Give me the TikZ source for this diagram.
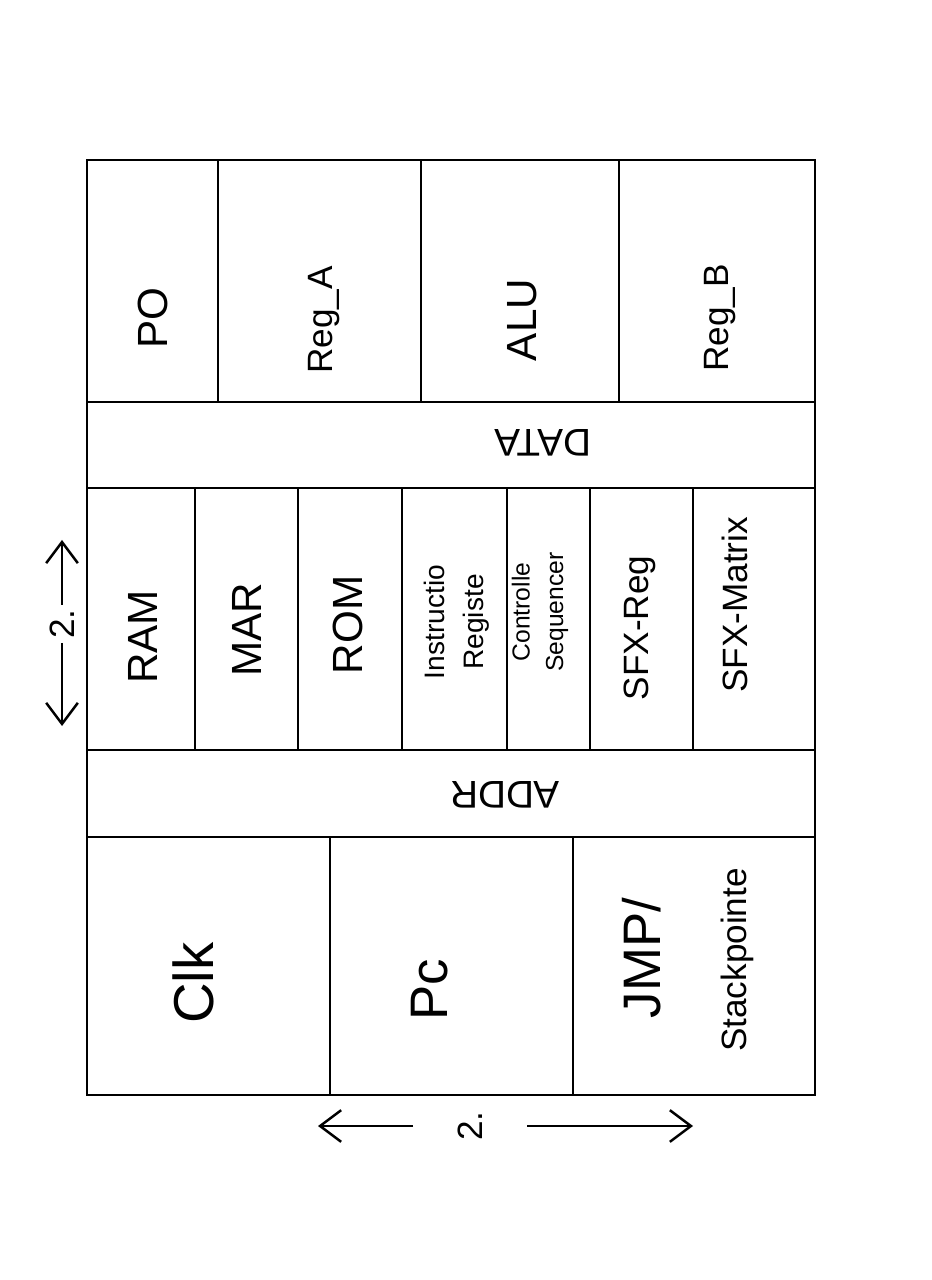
\documentclass[tikz,border=0pt]{standalone}
\usepackage{fontspec}
\setmainfont{Liberation Sans}
\usetikzlibrary{arrows.meta}
\tikzset{
  box/.style={line width=0.8pt},
  lbl/.style={rotate=90, inner sep=1pt},
  bus/.style={rotate=180, inner sep=1pt},
  dim/.style={->, line width=0.7pt, >={Straight Barb[length=6pt,width=9pt]}}
}
\begin{document}
\begin{tikzpicture}[x=0.01cm, y=-0.01cm]
    \useasboundingbox (0,0) rectangle (931,1280);

    % Frame and bands
    \draw[box] (87,160) rectangle (815,1095);
    \draw[box] (87,402) -- (815,402);
    \draw[box] (87,488) -- (815,488);
    \draw[box] (87,750) -- (815,750);
    \draw[box] (87,837) -- (815,837);

    % Top row
    \draw[box] (218,160) -- (218,402);
    \draw[box] (421,160) -- (421,402);
    \draw[box] (619,160) -- (619,402);
    \node[lbl, font=\fontsize{12}{14}\selectfont] (po) at (153,318) {PO};
    \node[lbl, font=\fontsize{10}{12}\selectfont] (rega) at (324,320) {Reg\_A};
    \node[lbl, font=\fontsize{12}{14}\selectfont] (alu) at (522,320) {ALU};
    \node[lbl, font=\fontsize{10}{12}\selectfont] (regb) at (720,318) {Reg\_B};

    % Data bus
    \node[bus, font=\fontsize{11}{13}\selectfont] (data) at (543,443) {DATA};

    % Middle row
    \draw[box] (195,488) -- (195,750);
    \draw[box] (298,488) -- (298,750);
    \draw[box] (402,488) -- (402,750);
    \draw[box] (507,488) -- (507,750);
    \draw[box] (590,488) -- (590,750);
    \draw[box] (693,488) -- (693,750);
    \node[lbl, font=\fontsize{12}{14}\selectfont] (ram) at (143,637) {RAM};
    \node[lbl, font=\fontsize{12}{14}\selectfont] (mar) at (247,630) {MAR};
    \node[lbl, font=\fontsize{12}{14}\selectfont] (rom) at (348,625) {ROM};
    \node[lbl, align=center, font=\fontsize{8}{11}\selectfont] (ir) at (457,622) {Instructio\\Registe};
    \node[lbl, align=center, font=\fontsize{7}{9.5}\selectfont] (cs) at (540,612) {Controlle\\Sequencer};
    \node[lbl, font=\fontsize{10}{12}\selectfont] (sfxreg) at (640,628) {SFX-Reg};
    \node[lbl, font=\fontsize{10}{12}\selectfont] (sfxmat) at (735,605) {SFX-Matrix};

    % Address bus
    \node[bus, font=\fontsize{11}{13}\selectfont] (addr) at (505,795) {ADDR};

    % Bottom row
    \draw[box] (330,837) -- (330,1095);
    \draw[box] (573,837) -- (573,1095);
    \node[lbl, font=\fontsize{16}{18}\selectfont] (clk) at (193,983) {Clk};
    \node[lbl, font=\fontsize{15}{17}\selectfont] (pc) at (430,990) {Pc};
    \node[lbl, font=\fontsize{15}{17}\selectfont] (jmp) at (642,958) {JMP/};
    \node[lbl, font=\fontsize{10}{12}\selectfont] (stack) at (737,960) {Stackpointe};

    % Size marks
    \node[lbl, font=\fontsize{10}{12}\selectfont] (vdim) at (62,624) {2.};
    \coordinate (vt0) at (62,540);
    \coordinate (vb0) at (62,726);
    \coordinate (vt1) at (62,605);
    \coordinate (vb1) at (62,643);
    \draw[dim] (vt1) -- (vt0);
    \draw[dim] (vb1) -- (vb0);

    \node[lbl, font=\fontsize{10}{12}\selectfont] (hdim) at (470,1126) {2.};
    \coordinate (hl0) at (318,1126);
    \coordinate (hr0) at (693,1126);
    \coordinate (hl1) at (413,1126);
    \coordinate (hr1) at (527,1126);
    \draw[dim] (hl1) -- (hl0);
    \draw[dim] (hr1) -- (hr0);
\end{tikzpicture}
\end{document}
